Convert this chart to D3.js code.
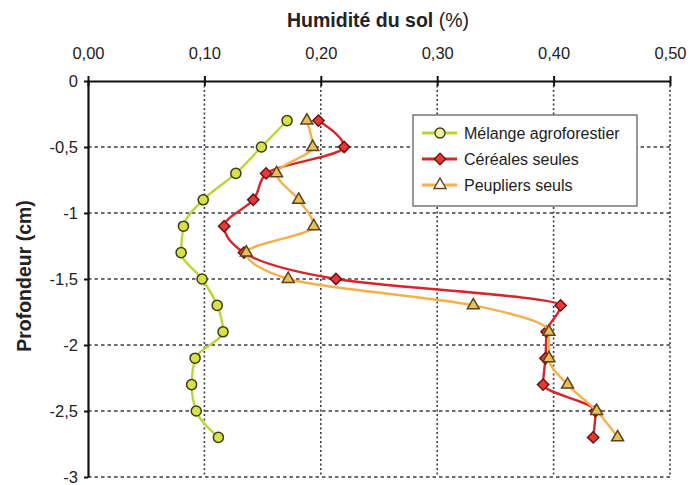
<!DOCTYPE html>
<html><head><meta charset="utf-8">
<script src="https://cdn.jsdelivr.net/npm/d3@7"></script>
<style>body{margin:0;background:#fff} svg{display:block}</style>
</head><body>
<svg id="chart" width="694" height="485"></svg>
<script>
// ---- data ----
const depths = [-0.3, -0.5, -0.7, -0.9, -1.1, -1.3, -1.5, -1.7, -1.9, -2.1, -2.3, -2.5, -2.7];
const melange = [0.171, 0.149, 0.127, 0.099, 0.082, 0.080, 0.098, 0.111, 0.116, 0.092, 0.089, 0.093, 0.112];
const cereales = [0.198, 0.220, 0.153, 0.142, 0.117, 0.134, 0.213, 0.406, 0.394, 0.393, 0.391, 0.436, 0.434];
const peupliers = [0.188, 0.193, 0.162, 0.181, 0.194, 0.136, 0.172, 0.331, 0.396, 0.396, 0.412, 0.437, 0.455];
const seriesNames = ["Mélange agroforestier", "Céréales seules", "Peupliers seuls"];
const xTicks = [0, 0.1, 0.2, 0.3, 0.4, 0.5];
const yTicks = [0, -0.5, -1, -1.5, -2, -2.5, -3];
const xTitle = "Humidité du sol";
const xTitleUnit = " (%)";
const yTitle = "Profondeur (cm)";

// ---- layout ----
const svg = d3.select("#chart");
const L = 88, R = 670, T = 81, B = 477;
const FONT = "'Liberation Sans', Arial, sans-serif";
const x = d3.scaleLinear().domain([0, 0.5]).range([L, R]);
const y = d3.scaleLinear().domain([0, -3]).range([T, B]);

const fmtX = d => d3.format(".2f")(d).replace(".", ",");
const fmtY = d => (d === 0 ? "0" : String(d).replace(".", ",").replace("−", "-"));

// grid
const grid = svg.append("g");
grid.selectAll("line.h").data(yTicks.filter(d => d !== 0)).join("line")
  .attr("x1", L).attr("x2", R).attr("y1", d => y(d)).attr("y2", d => y(d))
  .attr("stroke", "#3c3c48").attr("stroke-width", 1.3).attr("stroke-dasharray", "3.5,3");
grid.selectAll("line.v").data(xTicks.filter(d => d !== 0)).join("line")
  .attr("y1", T).attr("y2", B).attr("x1", d => x(d)).attr("x2", d => x(d))
  .attr("stroke", "#3c3c48").attr("stroke-width", 1.6).attr("stroke-dasharray", "2,2.5");

// axes
const xAxis = svg.append("g").attr("transform", `translate(0,${T})`)
  .call(d3.axisTop(x).tickValues(xTicks).tickFormat(fmtX).tickSizeInner(5).tickSizeOuter(0).tickPadding(17));
const yAxis = svg.append("g").attr("transform", `translate(${L},0)`)
  .call(d3.axisLeft(y).tickValues(yTicks).tickFormat(fmtY).tickSizeInner(4).tickSizeOuter(0).tickPadding(6));
[xAxis, yAxis].forEach(a => {
  a.select(".domain").attr("stroke", "#111").attr("stroke-width", 2.2);
  a.selectAll(".tick line").attr("stroke", "#111").attr("stroke-width", 2);
  a.selectAll(".tick text").attr("font-family", FONT).attr("font-size", 16.5).attr("fill", "#222");
});
xAxis.selectAll(".tick line").attr("y2", 5).attr("y1", -5);

// titles
const xt = svg.append("text").attr("x", 378).attr("y", 27).attr("text-anchor", "middle")
  .attr("font-family", FONT).attr("font-size", 19.5).attr("fill", "#222");
xt.append("tspan").attr("font-weight", "bold").text(xTitle);
xt.append("tspan").text(xTitleUnit);
svg.append("text").attr("transform", "translate(31,276) rotate(-90)").attr("text-anchor", "middle")
  .attr("font-family", FONT).attr("font-size", 19.5).attr("font-weight", "bold").attr("fill", "#222")
  .text(yTitle);

// series
const series = [
  {name: seriesNames[0], values: melange, line: "#bcd631", fill: "#d8e04a", stroke: "#3a3f12", shape: "circle", legendFill: "#eef29a"},
  {name: seriesNames[1], values: cereales, line: "#d6262c", fill: "#e23a36", stroke: "#6e1212", shape: "diamond", legendFill: "#e23a36"},
  {name: seriesNames[2], values: peupliers, line: "#f5b04c", fill: "#e6bf5e", stroke: "#5c4418", shape: "triangle", legendFill: "#ffffff"}
];
const symType = {circle: d3.symbolCircle, diamond: d3.symbolSquare, triangle: d3.symbolTriangle};
const symSize = {circle: 80, diamond: 64, triangle: 62};
const symRot = {circle: 0, diamond: 45, triangle: 0};
const line = d3.line().x(d => x(d[0])).y(d => y(d[1])).curve(d3.curveMonotoneY);

series.forEach(s => {
  const pts = s.values.map((v, i) => [v, depths[i]]);
  svg.append("path").datum(pts).attr("d", line).attr("fill", "none")
    .attr("stroke", s.line).attr("stroke-width", 2.4).attr("stroke-linejoin", "round");
  svg.append("g").selectAll("path").data(pts).join("path")
    .attr("transform", d => `translate(${x(d[0])},${y(d[1])}) rotate(${symRot[s.shape]})`)
    .attr("d", d3.symbol().type(symType[s.shape]).size(symSize[s.shape]))
    .attr("fill", s.fill).attr("stroke", s.stroke).attr("stroke-width", 1.5);
});

// legend
const lg = svg.append("g");
lg.append("rect").attr("x", 413).attr("y", 115).attr("width", 224).attr("height", 91)
  .attr("fill", "#fff").attr("stroke", "#555").attr("stroke-width", 1.2);
series.forEach((s, i) => {
  const ry = 133 + i * 26;
  lg.append("line").attr("x1", 422).attr("x2", 457).attr("y1", ry).attr("y2", ry)
    .attr("stroke", s.line).attr("stroke-width", 3);
  lg.append("path").attr("transform", `translate(440,${ry}) rotate(${symRot[s.shape]})`)
    .attr("d", d3.symbol().type(symType[s.shape]).size(symSize[s.shape]))
    .attr("fill", s.legendFill).attr("stroke", s.stroke).attr("stroke-width", 1.4);
  lg.append("text").attr("x", 464).attr("y", ry + 6).attr("font-family", FONT)
    .attr("font-size", 16).attr("fill", "#222").text(s.name);
});
</script>
</body></html>
